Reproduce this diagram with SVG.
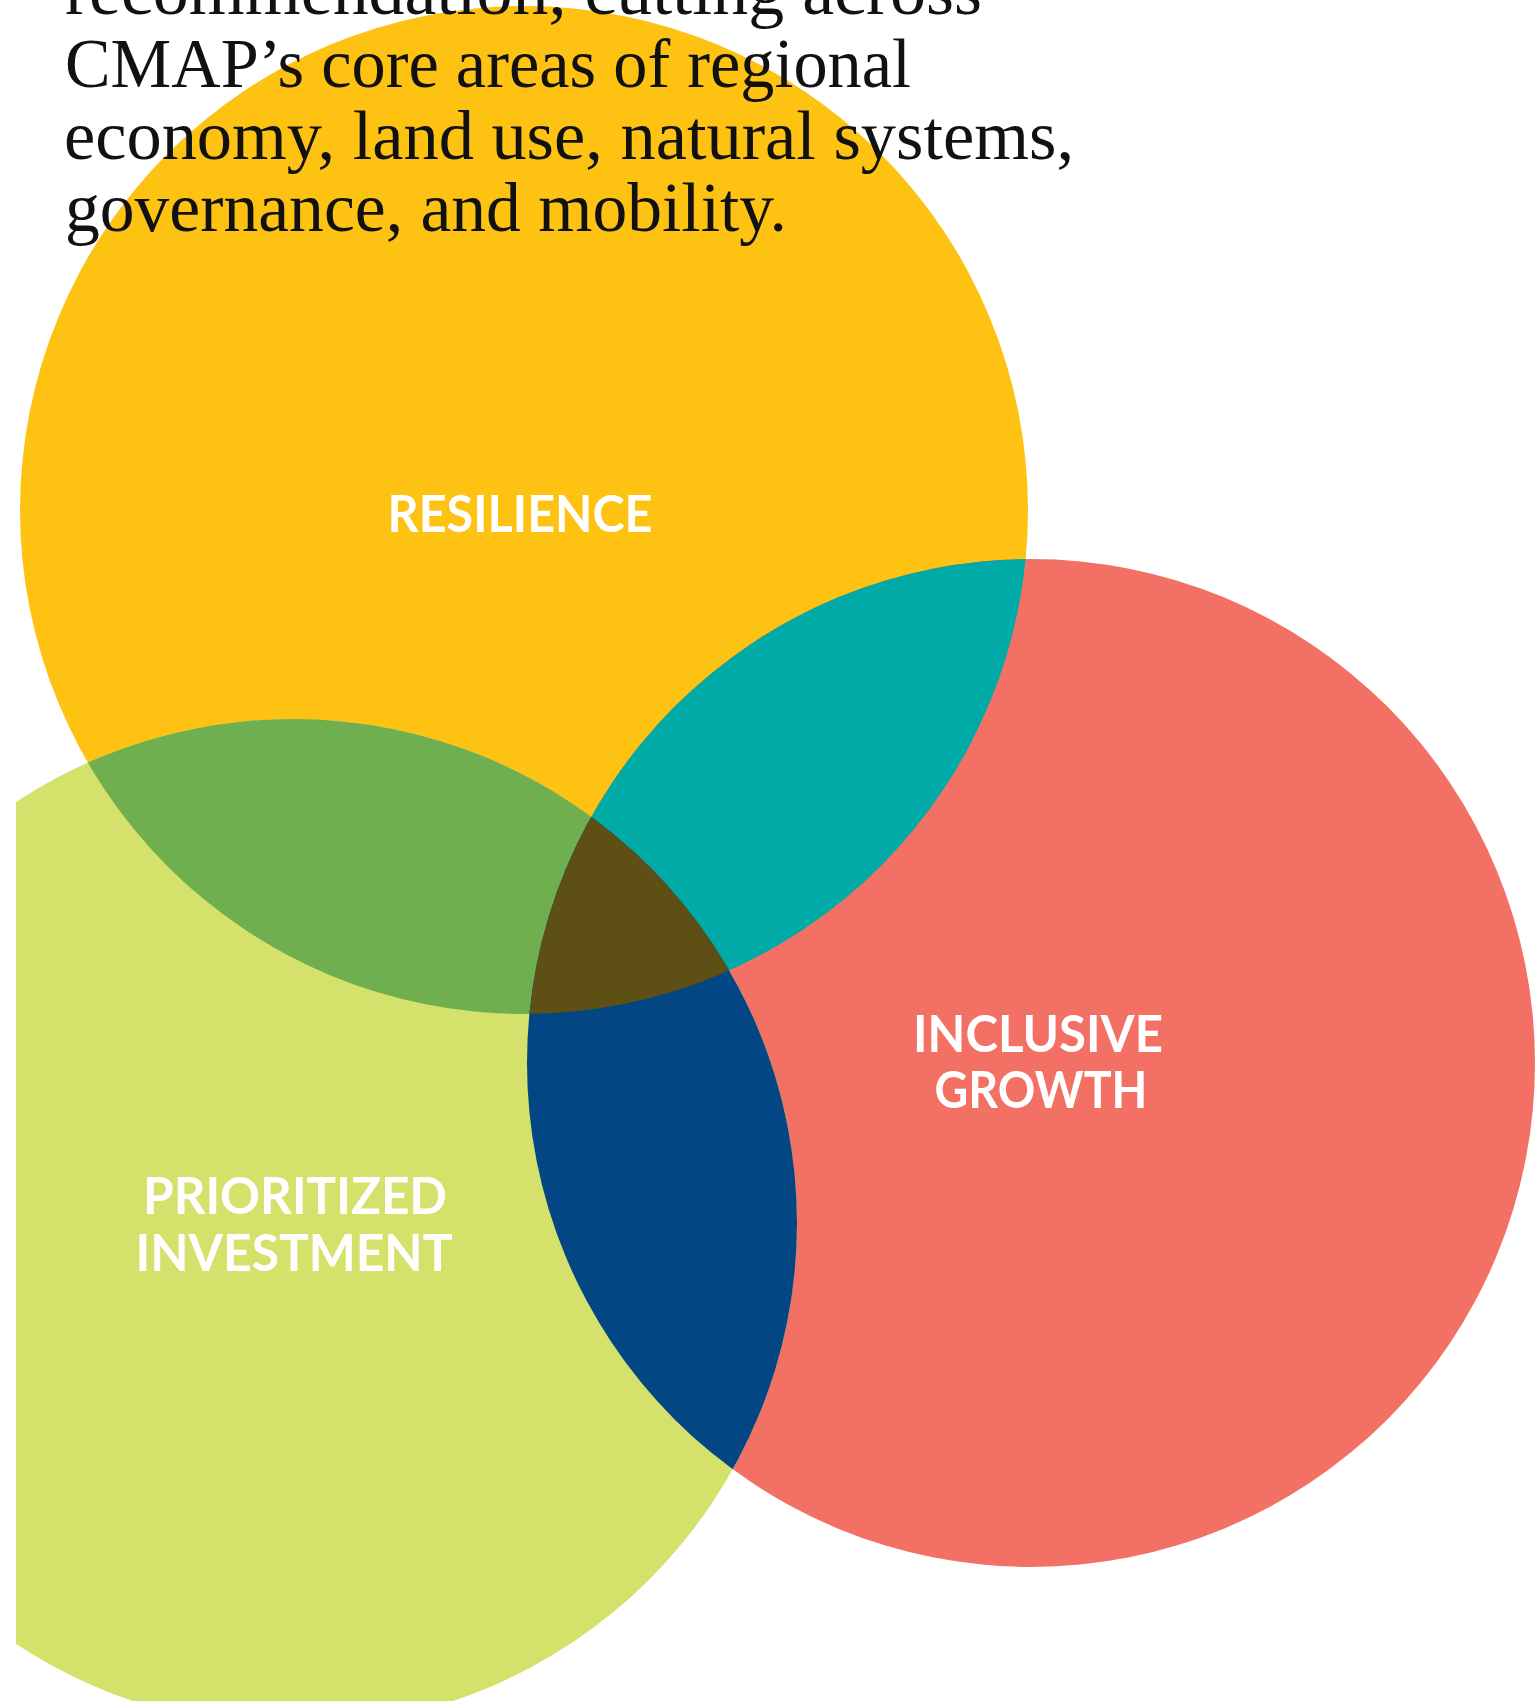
<svg xmlns="http://www.w3.org/2000/svg" width="1536" height="1701" viewBox="0 0 1536 1701">
  <style>
    .body { font-family: "Liberation Serif", "Times New Roman", serif; font-size: 70px; fill: #111111; }
    .label { font-family: Lato, "Open Sans", sans-serif; font-weight: 700; font-size: 51px; fill: #ffffff; text-anchor: middle; }
  </style>
  <defs>
    <clipPath id="clipPage"><rect x="16" y="0" width="1520" height="1701"/></clipPath>
    <clipPath id="clipYellow"><circle cx="524" cy="510" r="504"/></clipPath>
    <clipPath id="clipRed"><circle cx="1031" cy="1063" r="504"/></clipPath>
    <clipPath id="clipLime"><circle cx="293" cy="1223" r="504"/></clipPath>
  </defs>
  <rect width="1536" height="1701" fill="#ffffff"/>
  <g clip-path="url(#clipPage)">
    <g id="resilience">
      <circle cx="524" cy="510" r="504" fill="#FEC213"/>
    </g>
    <g id="inclusive-growth">
      <circle cx="1031" cy="1063" r="504" fill="#F27164"/>
    </g>
    <g id="prioritized-investment">
      <circle cx="293" cy="1223" r="504" fill="#D4E16B"/>
    </g>
    <g id="overlaps">
      <g id="overlap-resilience-investment" clip-path="url(#clipYellow)">
        <circle cx="293" cy="1223" r="504" fill="#6FAF50"/>
      </g>
      <g id="overlap-resilience-growth" clip-path="url(#clipYellow)">
        <circle cx="1031" cy="1063" r="504" fill="#00AAA6"/>
      </g>
      <g id="overlap-growth-investment" clip-path="url(#clipLime)">
        <circle cx="1031" cy="1063" r="504" fill="#024683"/>
      </g>
      <g id="overlap-all" clip-path="url(#clipYellow)">
        <g clip-path="url(#clipLime)">
          <circle cx="1031" cy="1063" r="504" fill="#5E4F15"/>
        </g>
      </g>
    </g>
  </g>
  <g id="labels">
    <text class="label" x="520" y="532" textLength="265" lengthAdjust="spacingAndGlyphs">RESILIENCE</text>
    <text class="label" x="1038" y="1052" textLength="250" lengthAdjust="spacingAndGlyphs">INCLUSIVE</text>
    <text class="label" x="1041" y="1108" textLength="213" lengthAdjust="spacingAndGlyphs">GROWTH</text>
    <text class="label" x="295" y="1214" textLength="304" lengthAdjust="spacingAndGlyphs">PRIORITIZED</text>
    <text class="label" x="294" y="1271" textLength="317" lengthAdjust="spacingAndGlyphs">INVESTMENT</text>
  </g>
  <g id="intro-text">
    <text class="body" x="65" y="14" textLength="917" lengthAdjust="spacingAndGlyphs">recommendation, cutting across</text>
    <text class="body" x="65" y="87" textLength="846" lengthAdjust="spacingAndGlyphs">CMAP’s core areas of regional</text>
    <text class="body" x="64" y="159" textLength="1010" lengthAdjust="spacingAndGlyphs">economy, land use, natural systems,</text>
    <text class="body" x="65" y="231" textLength="722" lengthAdjust="spacingAndGlyphs">governance, and mobility.</text>
  </g>
</svg>
